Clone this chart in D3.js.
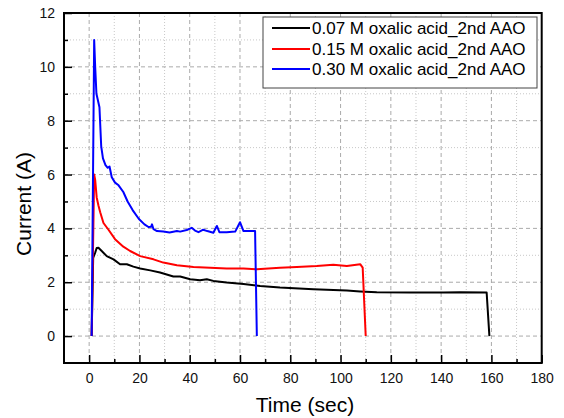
<!DOCTYPE html>
<html><head><meta charset="utf-8">
<script src="https://cdn.jsdelivr.net/npm/d3@7"></script>
<style>body{margin:0;background:#fff}svg{display:block}text{font-family:"Liberation Sans",Arial,sans-serif}</style>
</head><body>
<svg id="c" width="564" height="418"></svg>
<script>
const seriesNames = ["0.07 M oxalic acid_2nd AAO","0.15 M oxalic acid_2nd AAO","0.30 M oxalic acid_2nd AAO"];
const seriesColors = ["#000000","#ff0000","#0000ff"];
const xTicks = [0,20,40,60,80,100,120,140,160,180];
const yTicks = [0,2,4,6,8,10,12];
const xMinor = [10,30,50,70,90,110,130,150,170];
const yMinor = [1,3,5,7,9,11];

const tBlack = [1.0,1.6,2.4,3.0,3.7,5,7,9.7,12.3,15,17.6,20.3,24.3,28.2,33.5,36.2,40.2,44.1,46.8,49.4,54.7,61.4,68,75.9,89.2,102.5,107.8,114.4,127.6,140.9,147.5,158.1,159.2];
const iBlack = [0,2.9,3.1,3.27,3.28,3.16,2.97,2.85,2.67,2.67,2.58,2.51,2.44,2.36,2.21,2.21,2.11,2.07,2.11,2.05,1.99,1.93,1.86,1.8,1.74,1.69,1.66,1.63,1.62,1.62,1.63,1.62,0];

const tRed = [1.0,2.0,2.4,3.0,3.7,4.4,5.7,7.7,10.3,13.6,16.3,20.3,25.6,29.5,34.9,41.5,48.1,54.7,61.4,66.7,75.9,82.6,90.5,97.1,102.5,107.8,108.8,110];
const iRed = [0,6.0,5.8,5.15,4.85,4.6,4.2,3.95,3.6,3.32,3.16,2.97,2.85,2.73,2.63,2.57,2.54,2.51,2.51,2.48,2.54,2.57,2.6,2.65,2.6,2.67,2.54,0];

const tBlue = [1.0,2.0,2.4,2.9,4.1,4.8,5.5,6.5,7.4,8.1,9.0,10.3,11.7,13.6,15.3,17.3,19.8,22,23.6,24.6,25.0,25.6,27,29.5,32,34.9,36.2,38.8,40.8,42.1,43.5,45.4,47,49.4,50.8,51.8,54.7,58.1,60.0,61.4,66.0,66.7];
const iBlue = [0,11.0,10.0,9.0,8.5,7.05,6.6,6.35,6.25,6.3,5.9,5.7,5.6,5.35,5.0,4.68,4.35,4.15,4.05,4.06,4.15,3.97,3.9,3.88,3.85,3.9,3.88,3.94,4.02,3.92,3.86,3.95,3.9,3.84,4.09,3.86,3.86,3.88,4.23,3.9,3.9,0];

const series = [
  {t:tBlack, v:iBlack},
  {t:tRed, v:iRed},
  {t:tBlue, v:iBlue}
];

const L=64, T=13, R=541.7, B=363;
const svg = d3.select("#c");
const x = d3.scaleLinear().domain([-10,180]).range([L,R]);
const y = d3.scaleLinear().domain([-1,12]).range([B,T]);

// grid minor
const g = svg.append("g");
g.selectAll(".mx").data(xMinor).enter().append("line")
  .attr("x1",d=>x(d)).attr("x2",d=>x(d)).attr("y1",T).attr("y2",B)
  .attr("stroke","#c8c8c8").attr("stroke-width",1).attr("stroke-dasharray","1,2");
g.selectAll(".my").data(yMinor).enter().append("line")
  .attr("y1",d=>y(d)).attr("y2",d=>y(d)).attr("x1",L).attr("x2",R)
  .attr("stroke","#c8c8c8").attr("stroke-width",1).attr("stroke-dasharray","1,2");
// grid major
g.selectAll(".Mx").data(xTicks.filter(d=>d<180)).enter().append("line")
  .attr("x1",d=>x(d)).attr("x2",d=>x(d)).attr("y1",T).attr("y2",B)
  .attr("stroke","#aaaaaa").attr("stroke-width",1).attr("stroke-dasharray","4,3");
g.selectAll(".My").data(yTicks.filter(d=>d<12)).enter().append("line")
  .attr("y1",d=>y(d)).attr("y2",d=>y(d)).attr("x1",L).attr("x2",R)
  .attr("stroke","#aaaaaa").attr("stroke-width",1).attr("stroke-dasharray","4,3");

// data lines
const line = d3.line().x(d=>x(d[0])).y(d=>y(d[1]));
series.forEach((s,i)=>{
  const pts = s.t.map((tt,j)=>[tt,s.v[j]]);
  svg.append("path").datum(pts).attr("d",line).attr("fill","none")
    .attr("stroke",seriesColors[i]).attr("stroke-width",2).attr("stroke-linejoin","round");
});

// axes
const xa = svg.append("g").attr("transform",`translate(0,${B})`)
  .call(d3.axisBottom(x).tickValues(xTicks).tickSize(-8).tickPadding(10).tickFormat(d3.format("d")));
const xm = svg.append("g").attr("transform",`translate(0,${B})`)
  .call(d3.axisBottom(x).tickValues(xMinor).tickSize(-4).tickFormat(""));
const ya = svg.append("g").attr("transform",`translate(${L},0)`)
  .call(d3.axisLeft(y).tickValues(yTicks).tickSize(-8).tickPadding(9).tickFormat(d3.format("d")));
const ym = svg.append("g").attr("transform",`translate(${L},0)`)
  .call(d3.axisLeft(y).tickValues(yMinor).tickSize(-4).tickFormat(""));
[xa,xm,ya,ym].forEach(a=>{
  a.select(".domain").remove();
  a.selectAll(".tick line").attr("stroke","#000").attr("stroke-width",1.5);
  a.selectAll("text").attr("font-size",14).attr("fill","#111").style("font-family","'Liberation Sans',Arial,sans-serif");
});

// frame
svg.append("rect").attr("x",L).attr("y",T).attr("width",R-L).attr("height",B-T)
  .attr("fill","none").attr("stroke","#000").attr("stroke-width",2);

// titles
svg.append("text").attr("x",305).attr("y",412).attr("text-anchor","middle")
  .attr("font-size",21).attr("fill","#000").text("Time (sec)");
svg.append("text").attr("transform","translate(25,204) rotate(-90)").attr("text-anchor","middle")
  .attr("dominant-baseline","middle").attr("font-size",21).attr("fill","#000").text("Current (A)");

// legend
const lg = svg.append("g");
lg.append("rect").attr("x",263).attr("y",17).attr("width",274).attr("height",71)
  .attr("fill","#fff").attr("stroke","#444").attr("stroke-width",1);
const rows = [28,49,69];
seriesNames.forEach((n,i)=>{
  lg.append("line").attr("x1",272).attr("x2",310).attr("y1",rows[i]).attr("y2",rows[i])
    .attr("stroke",seriesColors[i]).attr("stroke-width",2);
  lg.append("text").attr("x",312).attr("y",rows[i]).attr("dominant-baseline","central")
    .attr("font-size",17).attr("fill","#000").text(n);
});
</script>
</body></html>
